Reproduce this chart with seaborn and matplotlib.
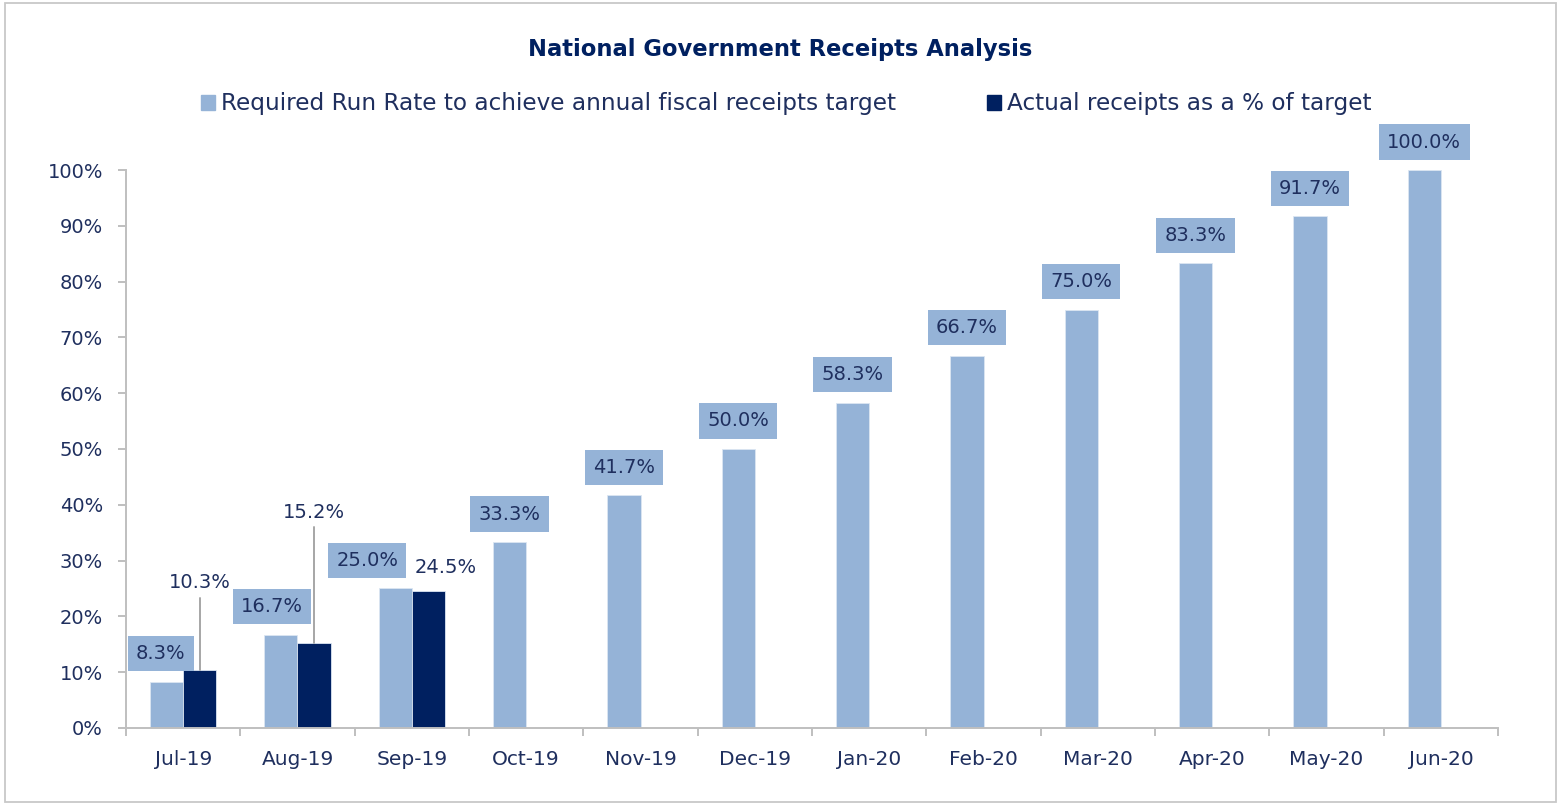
import numpy as np
import pandas as pd
import matplotlib
matplotlib.use("Agg")
import matplotlib.pyplot as plt
import matplotlib.patches as mpatches
from matplotlib.ticker import PercentFormatter, FixedLocator, NullFormatter
import seaborn as sns

months = ["Jul-19", "Aug-19", "Sep-19", "Oct-19", "Nov-19", "Dec-19",
          "Jan-20", "Feb-20", "Mar-20", "Apr-20", "May-20", "Jun-20"]
required = [8.3, 16.7, 25.0, 33.3, 41.7, 50.0, 58.3, 66.7, 75.0, 83.3, 91.7, 100.0]
actual = [10.3, 15.2, 24.5, np.nan, np.nan, np.nan, np.nan, np.nan, np.nan, np.nan, np.nan, np.nan]
series = ["Required Run Rate to achieve annual fiscal receipts target",
          "Actual receipts as a % of target"]

LIGHT = "#95B3D7"
DARK = "#002060"
TXT = "#1F2F5E"
GRID = "#BFBFBF"

df = pd.DataFrame({
    "month": months * 2,
    "value": [v / 100 for v in required] + [v / 100 for v in actual],
    "series": [series[0]] * len(months) + [series[1]] * len(months),
})

sns.set_theme(style="white")
plt.rcParams["font.family"] = ["DejaVu Sans"]

fig = plt.figure(figsize=(15.61, 8.05), dpi=100)
ax = fig.add_axes([0.0807, 0.0957, 0.879, 0.6931])

W = 0.58
sns.barplot(data=df.dropna(), x="month", y="value", hue="series", order=months,
            hue_order=series, palette=[LIGHT, DARK], width=W, dodge=True,
            saturation=1, errorbar=None, legend=False, ax=ax,
            edgecolor="#DCE6F2", linewidth=0.6)

ax.set_xlim(-0.5, len(months) - 0.5)
ax.set_ylim(0, 1.0)
ax.yaxis.set_major_locator(FixedLocator(np.arange(0, 1.01, 0.1)))
ax.yaxis.set_major_formatter(PercentFormatter(1.0, decimals=0))
ax.set_xlabel("")
ax.set_ylabel("")

for s in ["top", "right"]:
    ax.spines[s].set_visible(False)
for s in ["left", "bottom"]:
    ax.spines[s].set_color(GRID)
    ax.spines[s].set_linewidth(1.4)

ax.tick_params(axis="y", which="major", left=True, length=6, width=1.4,
               color=GRID, labelsize=14, labelcolor=TXT, pad=10.5)
ax.tick_params(axis="x", which="major", bottom=False, labelsize=14.5,
               labelcolor=TXT, pad=10)
ax.xaxis.set_minor_locator(FixedLocator(np.arange(-0.5, len(months), 1.0)))
ax.xaxis.set_minor_formatter(NullFormatter())
ax.tick_params(axis="x", which="minor", bottom=True, length=6, width=1.4, color=GRID)

# label offsets (pixels) for required-rate boxes: index -> (dx, dy)
req_off = {0: (-6, 0), 1: (-9, 0), 2: (-28, 0)}
for i, v in enumerate(required):
    xc = i - W / 4
    dx, dy = req_off.get(i, (0, 0))
    ax.annotate(f"{v:.1f}%", xy=(xc, v / 100), xytext=(dx, 28 + dy),
                textcoords="offset pixels", ha="center", va="center",
                fontsize=14, color=TXT, annotation_clip=False,
                bbox=dict(boxstyle="square,pad=0.42", fc=LIGHT, ec="none"))

# actual labels: index -> (dx, dy, leader)
act_off = {0: (0, 88, True), 1: (0, 131, True), 2: (17, 24, False)}
for i, v in enumerate(actual):
    if np.isnan(v):
        continue
    xc = i + W / 4
    dx, dy, lead = act_off[i]
    ax.annotate(f"{v:.1f}%", xy=(xc, v / 100), xytext=(dx, dy),
                textcoords="offset pixels", ha="center", va="center",
                fontsize=14, color=TXT, annotation_clip=False)
    if lead:
        y_top = v / 100 + (dy - 15) / 558
        ax.plot([xc, xc], [v / 100, y_top], color="#A6A6A6", lw=1.4,
                clip_on=False, zorder=1)

fig.text(0.4997, 0.938, "National Government Receipts Analysis", ha="center",
         va="center", fontsize=16.3, fontweight="bold", color=DARK)

handles = [mpatches.Patch(color=LIGHT, label=series[0]),
           mpatches.Patch(color=DARK, label=series[1])]
fig.legend(handles=handles, loc="center", bbox_to_anchor=(0.5036, 0.871), ncol=2,
           frameon=False, fontsize=16.7, labelcolor=TXT, handlelength=0.6,
           handleheight=0.6, handletextpad=0.28, columnspacing=3.9)

fig.add_artist(mpatches.Rectangle((0.003, 0.004), 0.9935, 0.9925,
                                  transform=fig.transFigure, fill=False,
                                  ec="#C8C8C8", lw=1.3))

fig.savefig("out.png", dpi=100)
